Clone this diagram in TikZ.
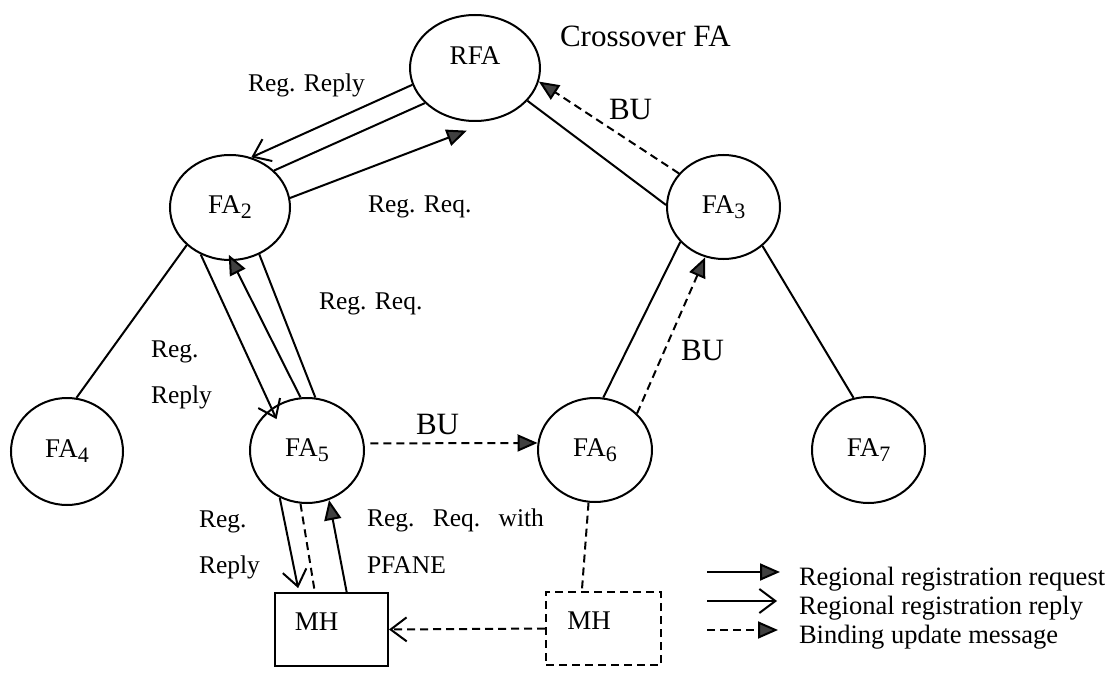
\documentclass[tikz,border=0pt]{standalone}
\usepackage{fontspec}
\setmainfont{Liberation Serif}
\usetikzlibrary{arrows.meta,shapes.geometric}
% lowered index digit of the agent names
\newcommand\lowidx[1]{\raisebox{-5pt}{\fontsize{22}{22}\selectfont #1}}
\begin{document}
\begin{tikzpicture}[x=1pt,y=-1pt,
  line width=2pt,
  fa/.style={ellipse, draw, inner sep=0pt, font=\fontsize{27}{30}\selectfont},
  mhbox/.style={rectangle, draw, inner sep=0pt, minimum height=73pt},
  lbl/.style={inner sep=0pt, anchor=base west, font=\fontsize{25.5}{28}\selectfont},
  biglbl/.style={inner sep=0pt, anchor=base west, font=\fontsize{31}{34}\selectfont},
  keytext/.style={inner sep=0pt, anchor=base west, font=\fontsize{26.5}{29}\selectfont},
  reqtip/.style={-{Triangle[length=20pt,width=17pt,fill=black!75]}},
  reptip/.style={-{Straight Barb[length=16pt,width=24pt]}},
  budash/.style={dash pattern=on 8pt off 5pt},
]
\useasboundingbox[fill=white] (0,0) rectangle (1112,682);

% agents
\node[fa, minimum width=130pt, minimum height=106pt,
  label={[inner sep=0pt, yshift=12pt, font=\fontsize{27}{30}\selectfont]center:RFA}]
  (RFA) at (475,68) {};
\node[fa, minimum width=120pt, minimum height=105pt] (FA2) at (230,207.5) {FA\lowidx{2}};
\node[fa, minimum width=113pt, minimum height=104pt] (FA3) at (723.5,207) {FA\lowidx{3}};
\node[fa, minimum width=112pt, minimum height=107pt] (FA4) at (67,451.5) {FA\lowidx{4}};
\node[fa, minimum width=114pt, minimum height=105pt] (FA5) at (307,450.5) {FA\lowidx{5}};
\node[fa, minimum width=114pt, minimum height=104pt] (FA6) at (595,450) {FA\lowidx{6}};
\node[fa, minimum width=113pt, minimum height=106pt] (FA7) at (868.5,450) {FA\lowidx{7}};

% mobile host, old and new position
\node[mhbox, minimum width=113pt,
  label={[inner sep=0pt, xshift=-15pt, yshift=8pt, font=\fontsize{27}{30}\selectfont]center:MH}]
  (MH) at (331.5,629.5) {};
\node[mhbox, budash, minimum width=115pt,
  label={[inner sep=0pt, xshift=-14.5pt, yshift=8pt, font=\fontsize{27}{30}\selectfont]center:MH}]
  (MH2) at (603.5,628.5) {};

% hierarchy links
\draw (RFA.215) -- (FA2.40);
\draw (RFA.328) -- (FA3.178);
\draw (FA2.221) -- (FA4.80);
\draw (FA2.302) -- (FA5.81);
\draw (FA6.81) -- (FA3.219);
\draw (FA3.315) -- (FA7.106);
\draw[budash] (FA5.263) -- (MH.114);
\draw[budash] (FA6.263) -- (MH2.120);

% registration messages
\draw[reptip] (RFA.195) -- (FA2.67);
\draw[reqtip, shorten >=36pt] (FA2.9) -- (RFA.297);
\draw[reptip, shorten >=-12pt] (FA2.238) -- (FA5.130);
\draw[reqtip, shorten >=-7pt] (FA5.97) -- (FA2.272);
\draw[reptip, shorten >=4pt] (FA5.240) -- (MH.131);
\draw[reqtip] (MH.68) -- (FA5.294);

% binding updates
\draw[budash, reqtip] (FA3.143) -- (RFA.348);
\draw[budash, reqtip, shorten <=6pt] (FA5.7) -- (FA6.173);
\draw[budash, reqtip] (FA6.41) -- (FA3.250);
\draw[budash, reptip] (MH2.west) -- (MH.east);

% message labels
\node[biglbl] (cross) at (559,47) {Crossover FA};
\node[lbl] (l1) at (247,92) {Reg. Reply};
\node[lbl] (l2) at (367,213) {Reg. Req.};
\node[biglbl] (l3) at (608,120) {BU};
\node[lbl] (l4) at (318,309) {Reg. Req.};
\node[lbl] (l5) at (150,357) {Reg.};
\node[lbl] (l6) at (150,403) {Reply};
\node[biglbl] (l7) at (415,434) {BU};
\node[biglbl] (l8) at (680,360) {BU};
\node[lbl] (l9) at (198,527) {Reg.};
\node[lbl] (l10) at (198,573) {Reply};
\node[lbl] (l11) at (366,526) {\hbox to 177pt{Reg.\hfill Req.\hfill with}};
\node[lbl] (l12) at (366,573) {PFANE};

% key
\coordinate (k1a) at (707,572);
\coordinate (k1b) at (780,572);
\coordinate (k2a) at (707,601);
\coordinate (k2b) at (777,601);
\coordinate (k3a) at (707,630);
\coordinate (k3b) at (778,630);
\draw[reqtip] (k1a) -- (k1b);
\draw[reptip] (k2a) -- (k2b);
\draw[budash, reqtip] (k3a) -- (k3b);
\node[keytext] (t1) at (798,585) {Regional registration request};
\node[keytext] (t2) at (798,614) {Regional registration reply};
\node[keytext] (t3) at (798,643) {Binding update message};
\end{tikzpicture}
\end{document}
